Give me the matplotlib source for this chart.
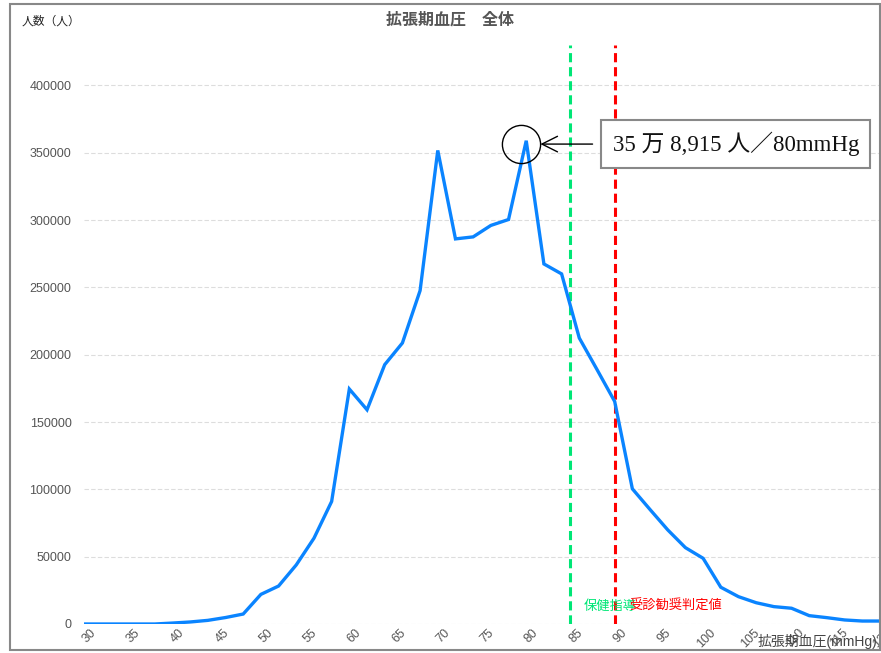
import matplotlib
matplotlib.use("Agg")
import matplotlib.pyplot as plt
from matplotlib.patches import Rectangle
from matplotlib.transforms import ScaledTranslation

plt.rcParams['font.family'] = ['Liberation Sans', 'Noto Sans CJK JP', 'DejaVu Sans']

# Data
bp = list(range(30, 121, 2))
counts = [0, 0, 0, 0, 0, 700, 1500, 2700, 4800, 7400,
          22000, 28200, 43900, 63700, 91000, 174500, 159100, 192600, 208700, 247600,
          351700, 286000, 287500, 296000, 300400, 358915, 267400, 260000, 212400, 189000,
          165300, 100400, 85000, 69900, 56700, 48800, 27300, 20300, 15800, 12900,
          11700, 6200, 4700, 3000, 2200, 2200]
yticks = list(range(0, 400001, 50000))
xticks = list(range(30, 121, 5))
guide_value = 85
referral_value = 90
peak_x = 80
peak_y = 358915

W, H = 881, 653
fig = plt.figure(figsize=(W / 100, H / 100), dpi=100)
ax = fig.add_axes([84 / W, 1 - 624 / H, (880 - 84) / W, (624 - 45) / H])

ax.plot(bp, counts, color='#0a84ff', lw=2.4, solid_joinstyle='miter', zorder=3)
ax.set_xlim(30, 120)
ax.set_ylim(0, 430000)

for s in ax.spines.values():
    s.set_visible(False)
ax.set_yticks(yticks)
ax.set_yticklabels([str(v) for v in yticks])
ax.set_xticks(xticks)
ax.set_xticklabels([str(v) for v in xticks], rotation=45, ha='right', va='top',
                   rotation_mode='anchor')
ax.tick_params(axis='y', length=0, pad=9, labelsize=9, labelcolor='#555555')
ax.tick_params(axis='x', length=0, pad=2, labelsize=9, labelcolor='#555555')
off = ScaledTranslation(6 / 100, 0, fig.dpi_scale_trans)
for lbl in ax.get_xticklabels():
    lbl.set_transform(lbl.get_transform() + off)
ax.yaxis.grid(True, color='#dddddd', lw=0.8, ls=(0, (4, 2)))
ax.set_axisbelow(True)

# threshold lines
ax.axvline(guide_value, color='#00e676', lw=2.2, ls=(0, (3, 1.6)), zorder=2)
ax.axvline(referral_value, color='#ff0000', lw=2.2, ls=(0, (3, 1.6)), zorder=2)
ax.text(guide_value + 1.5, 13000, '保健指導', color='#00e676', fontsize=9.5,
        ha='left', va='center', zorder=4)
ax.text(referral_value + 1.7, 13000, '受診勧奨判定値', color='#ff0000', fontsize=9.5,
        ha='left', va='center', zorder=5)

# annotation circle + box
ax.plot([peak_x - 0.6], [peak_y - 2500], marker='o', markersize=27.5,
        markerfacecolor='none', markeredgecolor='black', markeredgewidth=1.0, zorder=6)
ax.annotate('', xy=(81.6, peak_y - 2500), xytext=(87.5, peak_y - 2500),
            arrowprops=dict(arrowstyle='->', color='black', lw=1.0,
                            mutation_scale=28, shrinkA=0, shrinkB=0), zorder=6)
ax.text(103.7, peak_y - 2500, '35 万 8,915 人／80mmHg',
        family=['Liberation Serif', 'Noto Sans CJK JP'], fontsize=16.5,
        color='#111111', ha='center', va='center', zorder=7,
        bbox=dict(boxstyle='square,pad=0.5', facecolor='white',
                  edgecolor='#888888', lw=1.5))

# texts
fig.text(450 / W, 1 - 20 / H, '拡張期血圧　全体', ha='center', va='center',
         fontsize=11.5, fontweight='bold', color='#555555')
fig.text(22 / W, 1 - 22 / H, '人数（人）', ha='left', va='center', fontsize=8.5,
         color='#222222')
fig.text(877 / W, 1 - 641 / H, '拡張期血圧(mmHg)', ha='right', va='center',
         fontsize=10, color='#444444')

# outer border
fig.patches.append(Rectangle((10 / W, 1 - 650 / H), 870 / W, 646 / H,
                             transform=fig.transFigure, fill=False,
                             edgecolor='#888888', lw=1.5))

fig.savefig('out.png', dpi=100)
